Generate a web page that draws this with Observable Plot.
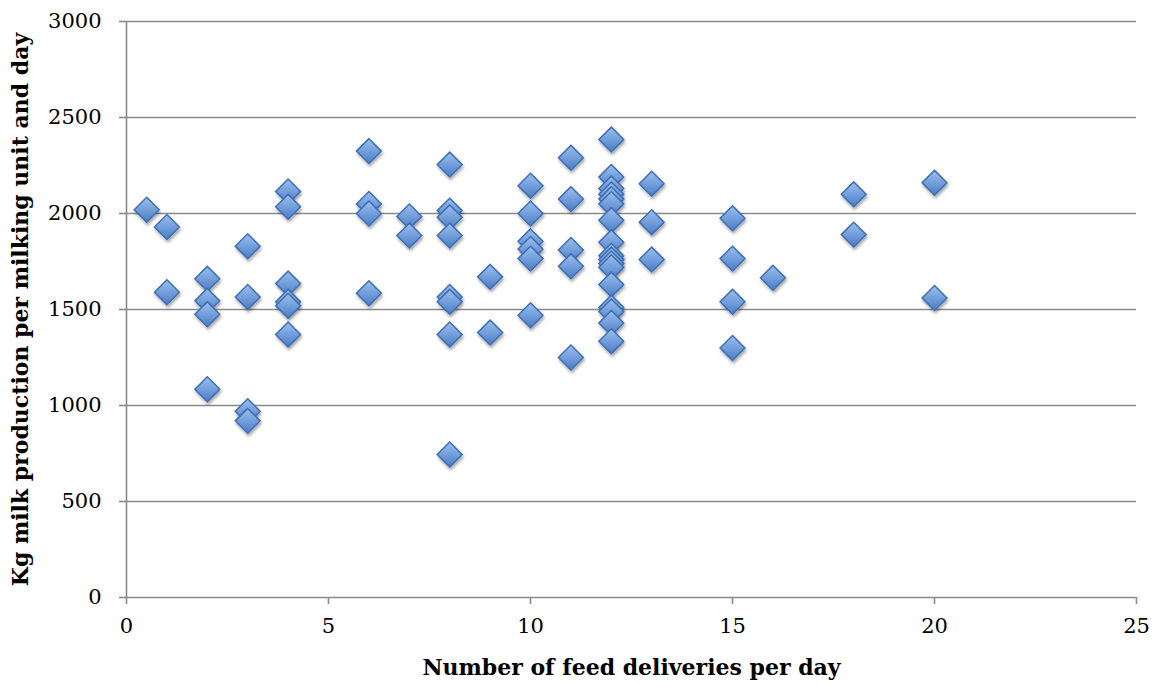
<!DOCTYPE html>
<html>
<head>
<meta charset="utf-8">
<script src="https://cdn.jsdelivr.net/npm/d3@7"></script>
<script src="https://cdn.jsdelivr.net/npm/@observablehq/plot@0.6"></script>
<style>
  body { margin: 0; background: #fff; }
  #chart svg { display: block; }
</style>
</head>
<body>
<svg width="0" height="0" style="position:absolute">
  <defs>
    <linearGradient id="diamondFill" x1="0" y1="0" x2="0" y2="1">
      <stop offset="0%" stop-color="#9cc0f0"/>
      <stop offset="100%" stop-color="#4a7dc6"/>
    </linearGradient>
    <filter id="shadow" x="-50%" y="-50%" width="200%" height="200%">
      <feDropShadow dx="1" dy="2.5" stdDeviation="1.6" flood-color="#000" flood-opacity="0.35"/>
    </filter>
  </defs>
</svg>
<div id="chart"></div>
<script>
const deliveries = [
  0.5,
  1, 1,
  2, 2, 2, 2,
  3, 3, 3, 3,
  4, 4, 4, 4, 4, 4,
  6, 6, 6, 6,
  7, 7,
  8, 8, 8, 8, 8, 8, 8, 8,
  9, 9,
  10, 10, 10, 10, 10, 10,
  11, 11, 11, 11, 11,
  12, 12, 12, 12, 12, 12, 12, 12, 12, 12, 12, 12, 12, 12, 12, 12, 12,
  13, 13, 13,
  15, 15, 15, 15,
  16,
  18, 18,
  20, 20
];
const production = [
  2020,
  1930, 1590,
  1660, 1545, 1475, 1085,
  1830, 1565, 970, 920,
  2115, 2035, 1635, 1540, 1520, 1370,
  2325, 2050, 2000, 1585,
  1985, 1885,
  2255, 2015, 1980, 1885, 1565, 1540, 1370, 745,
  1670, 1380,
  2145, 2000, 1855, 1815, 1765, 1470,
  2290, 2075, 1810, 1725, 1250,
  2385, 2190, 2130, 2100, 2075, 2050, 1965, 1850, 1780, 1760, 1740, 1720, 1630, 1510, 1490, 1430, 1335,
  2155, 1955, 1760,
  1975, 1765, 1540, 1300,
  1665,
  2100, 1890,
  2160, 1560
];
const xTicks = [0, 5, 10, 15, 20, 25];
const yTicks = [0, 500, 1000, 1500, 2000, 2500, 3000];
const xLabel = "Number of feed deliveries per day";
const yLabel = "Kg milk production per milking unit and day";

const data = deliveries.map((d, i) => ({x: d, y: production[i]}));

const chart = Plot.plot({
  width: 1157,
  height: 684,
  marginLeft: 126,
  marginRight: 21,
  marginTop: 21,
  marginBottom: 87,
  style: {fontFamily: "DejaVu Serif", fontSize: "21px", color: "#000", background: "#fff"},
  x: {domain: [0, 25]},
  y: {domain: [0, 3000]},
  marks: [
    Plot.gridY(yTicks.slice(1), {stroke: "#8a8a8a", strokeOpacity: 1, strokeWidth: 1.6}),
    Plot.ruleY([0], {stroke: "#8a8a8a", strokeWidth: 1.6}),
    Plot.ruleX([0], {stroke: "#8a8a8a", strokeWidth: 1.6}),
    Plot.axisX({ticks: xTicks, tickFormat: d => String(d), tickSize: 7, tickPadding: 14, stroke: "#8a8a8a", strokeWidth: 1.6, label: null}),
    Plot.axisY({ticks: yTicks, tickFormat: d => String(d), tickSize: 7, tickPadding: 18, stroke: "#8a8a8a", strokeWidth: 1.6, label: null}),
    Plot.dot(data, {x: "x", y: "y", symbol: "diamond2", r: 11.2, fill: "url(#diamondFill)", stroke: "#3f6fb3", strokeWidth: 1.5}),
    Plot.text([xLabel], {frameAnchor: "bottom", dy: 70, lineAnchor: "middle", textAnchor: "middle", fontWeight: "bold", fontSize: 22, fill: "#000"}),
    Plot.text([yLabel], {frameAnchor: "left", dx: -106, rotate: -90, lineAnchor: "middle", textAnchor: "middle", fontWeight: "bold", fontSize: 22, fill: "#000"})
  ]
});
chart.querySelectorAll('g[aria-label="dot"] path').forEach(p => p.setAttribute("filter", "url(#shadow)"));
document.getElementById("chart").appendChild(chart);
</script>
</body>
</html>
